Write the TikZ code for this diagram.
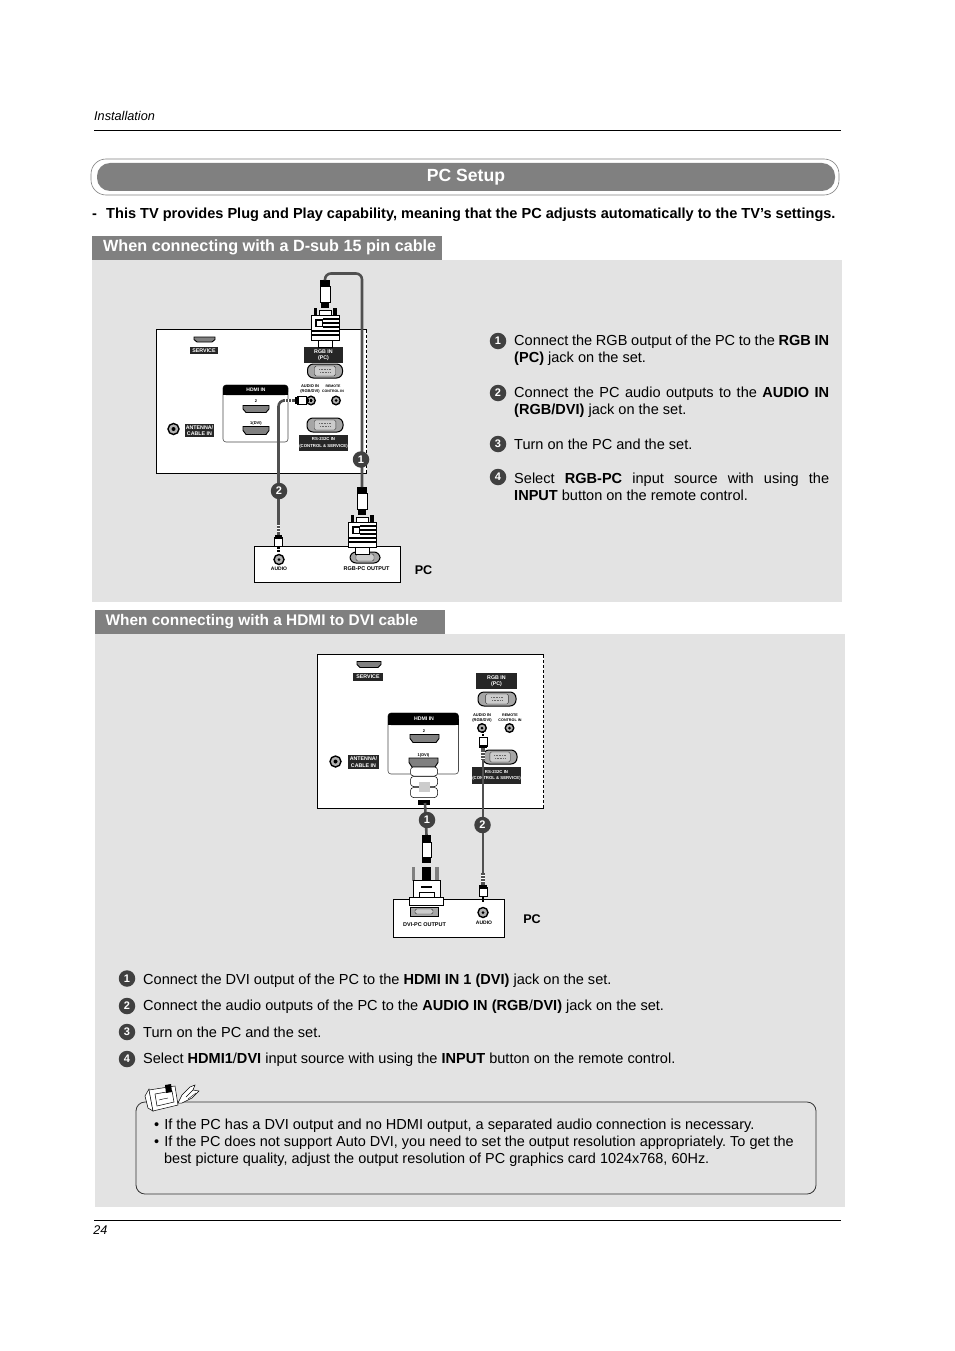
\documentclass[tikz,border=0pt]{standalone}
\usepackage{fontspec}
\setmainfont{Liberation Sans}
\setsansfont{Liberation Sans}
\frenchspacing
\definecolor{panelgray}{HTML}{E3E3E3}
\definecolor{bargray}{HTML}{808080}
\definecolor{cablegray}{HTML}{505050}
\definecolor{badgegray}{HTML}{404040}
% d-sub plug, origin at the cable end
\newcommand{\vgaplug}[3]{
    \begin{scope}[shift={(#2,#3)}]
        \coordinate (#1) at (0,0);
        \fill (-5,0) rectangle (5,6); \draw[plugline] (-5,6) rectangle (5,22); \fill (-4,22) rectangle (4,28);
        \fill (-11.5,28) rectangle (-8,35); \fill (8,28) rectangle (11.5,35);
        \draw[plugline] (-6,30) rectangle (6,36); \draw[plugline] (-7,60) rectangle (7,67);
        \draw[plugline] (-14,35) rectangle (14,60);
        \foreach \y in {38.5,42.5,46.5} {\draw[line width=2pt] (-2,\y) -- (14,\y);}
        \foreach \y in {50.5,54.5} {\draw[line width=2pt] (-14,\y) -- (14,\y);}
        \fill (-10,39) rectangle (-2,47); \fill[white] (-8.5,40.5) rectangle (-3,45.5);
    \end{scope}}
% mini jack plug, the tip points down before rotating
\newcommand{\jackplug}[4]{
    \begin{scope}[shift={(#2,#3)}, rotate=#4]
        \coordinate (#1) at (0,0);
        \fill[cablegray] (-1.8,0) rectangle (1.8,12);
        \foreach \y in {2,5,8} {\draw[white, line width=.6pt] (-1.8,\y) -- (1.8,\y);}
        \draw[plugline] (-3.8,14) rectangle (3.8,23); \fill (-3.8,12) rectangle (3.8,15.5);
        \fill (-1.2,24) rectangle (1.2,26); \fill (-1.2,27) rectangle (1.2,29);
    \end{scope}}
% d-sub socket on the back of the set
\newcommand{\dsocket}[4]{
    \node[socketbody, minimum width=#4] (#1) at (#2,#3) {};
    \node[socketface, minimum width=0.6*#4] at (#1) {};
    \draw[black!60, densely dotted, line width=.6pt] ([xshift=-6pt, yshift=1.5pt]#1.center) -- ([xshift=6pt, yshift=1.5pt]#1.center);
    \draw[black!60, densely dotted, line width=.6pt] ([xshift=-5pt, yshift=-1.5pt]#1.center) -- ([xshift=5pt, yshift=-1.5pt]#1.center);}
% slot that narrows downwards: name, x, y, width, height
\newcommand{\slotport}[5]{
    \begin{scope}[shift={(#2,#3)}]
        \coordinate (#1) at (0,0);
        \draw[hdmiport] (-#4/2,-#5/2) -- (#4/2,-#5/2) -- (#4/2,0) -- (#4/2-3,#5/2) -- (-#4/2+3,#5/2) -- (-#4/2,0) -- cycle;
    \end{scope}}
\begin{document}
\begin{tikzpicture}[x=1pt, y=-1pt, font=\sffamily]
    \tikzstyle{bodytext}=[font=\sffamily\fontsize{14.55}{17}\selectfont, inner sep=0pt, anchor=west]
    \tikzstyle{heading}=[font=\sffamily\bfseries\fontsize{16.2}{18}\selectfont, text=white, inner sep=0pt, anchor=west]
    \tikzstyle{plugline}=[draw=black, fill=white, line width=.6pt]
    \tikzstyle{cable}=[draw=cablegray, line width=2.6pt, rounded corners=6pt]
    \tikzstyle{badge}=[circle, fill=badgegray, text=white, inner sep=0pt, minimum size=16.5pt, font=\sffamily\bfseries\fontsize{11}{11}\selectfont]
    \tikzstyle{portlabel}=[fill=black!85, text=white, inner sep=0pt, align=center, font=\sffamily\bfseries\fontsize{5.3}{6.4}\selectfont]
    \tikzstyle{rslabel}=[portlabel, font=\sffamily\bfseries\fontsize{4.3}{6.4}\selectfont]
    \tikzstyle{tinytext}=[inner sep=0pt, align=center, font=\sffamily\bfseries\fontsize{4}{5.2}\selectfont]
    \tikzstyle{outputtext}=[inner sep=0pt, font=\sffamily\bfseries\fontsize{5.5}{6}\selectfont]
    \tikzstyle{hdmiport}=[draw=black, fill=gray, line width=.9pt]
    \tikzstyle{jack}=[circle, draw=black, fill=gray!60, line width=1.4pt, minimum size=8.5pt, inner sep=0pt]
    \tikzstyle{jackhole}=[circle, fill=black, minimum size=3pt, inner sep=0pt]
    \tikzstyle{socketbody}=[rounded corners=6pt, fill=gray!70, draw=black, line width=1pt, minimum height=14pt, inner sep=0pt]
    \tikzstyle{socketface}=[rounded corners=1.5pt, fill=gray!40, draw=black!80, minimum height=10pt, inner sep=0pt]
    \tikzstyle{hdmibox}=[draw=black!70, fill=white, rounded corners=3pt, line width=.6pt]
    \tikzstyle{hdmilobe}=[draw=black, fill=white, rounded corners=3pt, line width=.5pt, minimum width=27pt, inner sep=0pt]

    \path[use as bounding box, fill=white] (0,0) rectangle (954,1351);

    % Page head
    \node[inner sep=0pt, anchor=west, font=\sffamily\itshape\fontsize{12.7}{14}\selectfont] (pagehead) at (94,115.5) {Installation};
    \draw[line width=.8pt] (94,130.5) -- (841,130.5);
    \draw[bargray, line width=.6pt, fill=white, rounded corners=15pt] (91,159) rectangle (839,195);
    \fill[bargray, rounded corners=13pt] (97,163) rectangle (835,191);
    \node[font=\sffamily\bfseries\fontsize{17.6}{20}\selectfont, text=white, inner sep=0pt] (title) at (466,177) {PC Setup};
    \node[bodytext, font=\sffamily\bfseries\fontsize{14.55}{17}\selectfont] (intro) at (92,215) {-\hspace{9.2pt}This TV provides Plug and Play capability, meaning that the PC adjusts automatically to the TV's settings.};

    % First panel
    \fill[panelgray] (92,260) rectangle (842,602);
    \fill[bargray] (92,236) rectangle (442,260);
    \node[heading] (headone) at (103,247.5) {When connecting with a D-sub 15 pin cable};

    % Back of the set
    \fill[white] (156,329.5) rectangle (366.5,473.5);
    \draw[line width=.9pt] (366.5,329.5) -- (156,329.5) -- (156,473.5) -- (366.5,473.5);
    \draw[line width=.8pt, densely dashed] (366.5,329.5) -- (366.5,473.5);
    \slotport{serviceone}{204.5}{339.5}{21}{5}
    \node[portlabel, minimum width=28pt, minimum height=7pt] (servicelabelone) at (204,350.5) {SERVICE};
    \node[portlabel, minimum width=39pt, minimum height=16pt] (rgblabelone) at (323.5,355) {RGB IN\\(PC)};
    \dsocket{rgbone}{325}{371}{35pt}
    \draw[hdmibox] (223,385) rectangle (288,442);
    \fill[black, rounded corners=3pt] (223,385) rectangle (288,395); \fill (223,391) rectangle (288,395);
    \node[font=\sffamily\bfseries\fontsize{5}{6}\selectfont, text=white, inner sep=0pt] (hdmilabelone) at (256,390) {HDMI IN};
    \node[tinytext] (hdmitwoone) at (256,401) {2};
    \slotport{porttwoone}{256}{409}{26}{7}
    \node[tinytext] (hdmidvione) at (256,423) {1(DVI)};
    \slotport{portdvione}{256}{430.5}{26}{8}
    \node[tinytext] (audiolabelone) at (310,389) {AUDIO IN\\(RGB/DVI)};
    \node[jack] (audioone) at (311,400.5) {}; \node[jackhole] at (audioone) {};
    \node[tinytext, font=\sffamily\bfseries\fontsize{3.5}{5.2}\selectfont] (remotelabelone) at (333,389) {REMOTE\\CONTROL IN};
    \node[jack] (remoteone) at (336,400.5) {}; \node[jackhole] at (remoteone) {};
    \dsocket{rsone}{325}{425}{36pt}
    \node[rslabel, minimum width=47pt, minimum height=16pt] (rslabelone) at (323.5,443) {RS-232C IN\\(CONTROL \& SERVICE)};
    \node[jack, minimum size=11pt] (antennaone) at (173.5,429) {}; \node[jackhole, minimum size=4pt] at (antennaone) {};
    \node[portlabel, minimum width=29pt, minimum height=13pt] (antennalabelone) at (199.5,430.5) {ANTENNA/\\CABLE IN};

    % PC
    \draw[line width=.9pt, fill=white] (254,546) rectangle (400,582);
    \node[socketbody, minimum width=30pt, minimum height=11pt] (rgbpc) at (365,557.5) {};
    \node[socketface, minimum width=18pt, minimum height=7pt] at (rgbpc) {};
    \node[jack, minimum size=10pt] (audiopc) at (279,559.5) {}; \node[jackhole] at (audiopc) {};
    \node[outputtext, font=\sffamily\bfseries\fontsize{5}{6}\selectfont] (audiopclabel) at (279,569) {AUDIO};
    \node[outputtext] (rgbpclabel) at (366.5,569) {RGB-PC OUTPUT};
    \node[font=\sffamily\bfseries\fontsize{12.6}{14}\selectfont, inner sep=0pt] (pcone) at (423.5,570) {PC};

    % Cables
    \coordinate (cabletop) at (343,273.5);
    \vgaplug{rgbplugtv}{325}{280}
    \vgaplug{rgbplugpc}{362}{487}
    \draw[cable] (rgbplugtv) -- (rgbplugtv |- cabletop) -- (rgbplugpc |- cabletop) -- (rgbplugpc);
    \jackplug{audioplugtv}{283}{400.5}{90}
    \jackplug{audioplugpc}{278.5}{523}{0}
    \draw[cable] (audioplugtv) -| (audioplugpc);
    \node[badge] (badgecableone) at (361,459.5) {1};
    \node[badge] (badgecabletwo) at (279,491) {2};

    % Steps of the first panel
    \node[badge] (stepone) at (498,341) {1};
    \node[badge] (steptwo) at (498,393) {2};
    \node[badge] (stepthree) at (498,444) {3};
    \node[badge] (stepfour) at (498,477) {4};
    \node[bodytext, text width=315pt, align=justify] (textone) at (514,350.5) {Connect the RGB output of the PC to the \textbf{RGB IN (PC)} jack on the set.};
    \node[bodytext, text width=315pt, align=justify] (texttwo) at (514,402.5) {Connect the PC audio outputs to the \textbf{AUDIO IN (RGB/DVI)} jack on the set.};
    \node[bodytext] (textthree) at (514,444.5) {Turn on the PC and the set.};
    \node[bodytext, text width=315pt, align=justify] (textfour) at (514,486.5) {Select \textbf{RGB-PC} input source with using the\linebreak \textbf{INPUT} button on the remote control.};

    % Second panel
    \fill[panelgray] (95,634) rectangle (845,1207);
    \fill[bargray] (95,610) rectangle (445,634);
    \node[heading, font=\sffamily\bfseries\fontsize{15.4}{18}\selectfont] (headtwo) at (105.5,622) {When connecting with a HDMI to DVI cable};

    % Back of the set
    \fill[white] (317.5,654.5) rectangle (543.5,808.5);
    \draw[line width=.9pt] (543.5,654.5) -- (317.5,654.5) -- (317.5,808.5) -- (543.5,808.5);
    \draw[line width=.8pt, densely dashed] (543.5,654.5) -- (543.5,808.5);
    \slotport{servicetwo}{369}{664.5}{24}{6}
    \node[portlabel, minimum width=30pt, minimum height=8pt] (servicelabeltwo) at (368,676.5) {SERVICE};
    \node[portlabel, minimum width=41pt, minimum height=16pt] (rgblabeltwo) at (496.5,681) {RGB IN\\(PC)};
    \dsocket{rgbtwo}{497}{699}{38pt}
    \draw[hdmibox] (388,713) rectangle (458.5,774);
    \fill[black, rounded corners=3pt] (388,713) rectangle (458.5,725); \fill (388,719) rectangle (458.5,725);
    \node[font=\sffamily\bfseries\fontsize{5.2}{6}\selectfont, text=white, inner sep=0pt] (hdmilabeltwo) at (424,719) {HDMI IN};
    \node[tinytext] (hdmitwotwo) at (424,731) {2};
    \slotport{porttwotwo}{424.5}{738.5}{29}{8}
    \node[tinytext] (hdmidvitwo) at (423.5,755) {1(DVI)};
    \slotport{portdvitwo}{423.5}{762.5}{29}{9}
    \node[tinytext] (audiolabeltwo) at (482,718) {AUDIO IN\\(RGB/DVI)};
    \node[jack] (audiotwo) at (482,728) {}; \node[jackhole] at (audiotwo) {};
    \node[tinytext, font=\sffamily\bfseries\fontsize{3.7}{5.2}\selectfont] (remotelabeltwo) at (510,718) {REMOTE\\CONTROL IN};
    \node[jack] (remotetwo) at (509.5,728) {}; \node[jackhole] at (remotetwo) {};
    \dsocket{rstwo}{500}{757}{34pt}
    \node[rslabel, minimum width=46pt, minimum height=17pt] (rslabeltwo) at (496.5,775.5) {RS-232C IN\\(CONTROL \& SERVICE)};
    \node[jack, minimum size=11pt] (antennatwo) at (335.5,761.5) {}; \node[jackhole, minimum size=4pt] at (antennatwo) {};
    \node[portlabel, minimum width=31pt, minimum height=14pt] (antennalabeltwo) at (363.5,762) {ANTENNA/\\CABLE IN};

    % PC
    \draw[line width=.6pt, fill=white] (393,899) rectangle (504,937);
    \node[socketbody, rounded corners=0pt, minimum width=28pt, minimum height=9pt] (dvipc) at (424,911.5) {};
    \node[socketface, minimum width=18pt, minimum height=5pt] at (dvipc) {};
    \node[jack, minimum size=10pt] (audiopctwo) at (483,912.5) {}; \node[jackhole] at (audiopctwo) {};
    \node[outputtext, font=\sffamily\bfseries\fontsize{5}{6}\selectfont] (audiopclabeltwo) at (484,923) {AUDIO};
    \node[outputtext] (dvipclabel) at (424.5,925) {DVI-PC OUTPUT};
    \node[font=\sffamily\bfseries\fontsize{12.6}{14}\selectfont, inner sep=0pt] (pctwo) at (532,919) {PC};

    % Cables
    \node[hdmilobe, minimum height=9pt] (lobeone) at (424,771.5) {};
    \node[hdmilobe, minimum height=10pt] (lobetwo) at (424,781.5) {};
    \node[hdmilobe, minimum height=10pt] (lobethree) at (424,792.5) {};
    \fill[gray!40] (418.5,782) rectangle (430,792);
    \fill[black] (418,800) rectangle (430,805);
    \coordinate (hdmiend) at (425,803);
    \coordinate (dviend) at (426.5,835);
    \draw[cable, rounded corners=0pt] (hdmiend) -- (dviend);
    \fill (422,835) rectangle (431,842); \draw[plugline] (422,842) rectangle (431,857); \fill (422,857) rectangle (431,863);
    \fill (422,867) rectangle (431,880); \fill[gray] (411.5,867) rectangle (415,881); \fill[gray] (435,867) rectangle (438.5,881);
    \draw[plugline] (413,880) rectangle (440,898); \draw[plugline] (419,892) rectangle (434,898);
    \fill (421,886) rectangle (432,888); \draw[plugline] (409.5,897) rectangle (443,905);
    \jackplug{audioplugset}{483}{760}{180}
    \jackplug{audioplugpctwo}{483}{873}{0}
    \draw[cable] (audioplugset) -- (audioplugpctwo);
    \node[badge] (badgedvi) at (427,820) {1};
    \node[badge] (badgeaudio) at (482.5,825) {2};

    % Steps of the second panel
    \node[badge] (steponetwo) at (127,978.5) {1};
    \node[badge] (steptwotwo) at (127,1006) {2};
    \node[badge] (stepthreetwo) at (127,1032) {3};
    \node[badge] (stepfourtwo) at (127,1059) {4};
    \node[bodytext] (textonetwo) at (143,980.5) {Connect the DVI output of the PC to the \textbf{HDMI IN 1 (DVI)} jack on the set.};
    \node[bodytext] (texttwotwo) at (143,1006.5) {Connect the audio outputs of the PC to the \textbf{AUDIO IN (RGB}/\textbf{DVI)} jack on the set.};
    \node[bodytext] (textthreetwo) at (143,1032.5) {Turn on the PC and the set.};
    \node[bodytext] (textfourtwo) at (143,1059.5) {Select \textbf{HDMI1}/\textbf{DVI} input source with using the \textbf{INPUT} button on the remote control.};

    % Note
    \draw[black!80, line width=.8pt, rounded corners=9pt] (136,1102) rectangle (816,1194);
    \draw[fill=white, line width=.5pt] (145,1096) -- (149,1089) -- (153,1111) -- (148,1108) -- cycle;
    \draw[fill=white, line width=.5pt] (149,1090) -- (175,1086) -- (178,1105) -- (153,1111) -- cycle;
    \draw[line width=.5pt] (155,1094) -- (172,1091) -- (174,1102) -- (157,1106) -- cycle;
    \fill (165,1085) -- (171,1084) -- (172,1092) -- (166,1093) -- cycle;
    \draw[line width=.4pt] (159,1100) -- (163,1099) -- (168,1098);
    \draw[fill=white, line width=.5pt] (178,1103) -- (182,1095) -- (190,1087) -- (195,1085) -- (193,1090) -- (199,1091) -- (192,1098) -- (182,1103) -- cycle;
    \draw[line width=.4pt] (186,1097) -- (193,1090) (188,1099) -- (196,1093);
    \node[bodytext] (noteone) at (154,1126) {\textbullet\hspace{5pt}If the PC has a DVI output and no HDMI output, a separated audio connection is necessary.};
    \node[bodytext, anchor=north west, align=left, font=\sffamily\fontsize{14.45}{17.8}\selectfont] (notetwo) at (154,1135.5) {\textbullet\hspace{5pt}If the PC does not support Auto DVI, you need to set the output resolution appropriately. To get the\\\hspace{10pt}best picture quality, adjust the output resolution of PC graphics card 1024x768, 60Hz.};

    % Page foot
    \draw[line width=.8pt] (94,1220.5) -- (841,1220.5);
    \node[inner sep=0pt, font=\sffamily\itshape\fontsize{12.6}{14}\selectfont] (pagenumber) at (100.5,1230.5) {24};
\end{tikzpicture}
\end{document}
